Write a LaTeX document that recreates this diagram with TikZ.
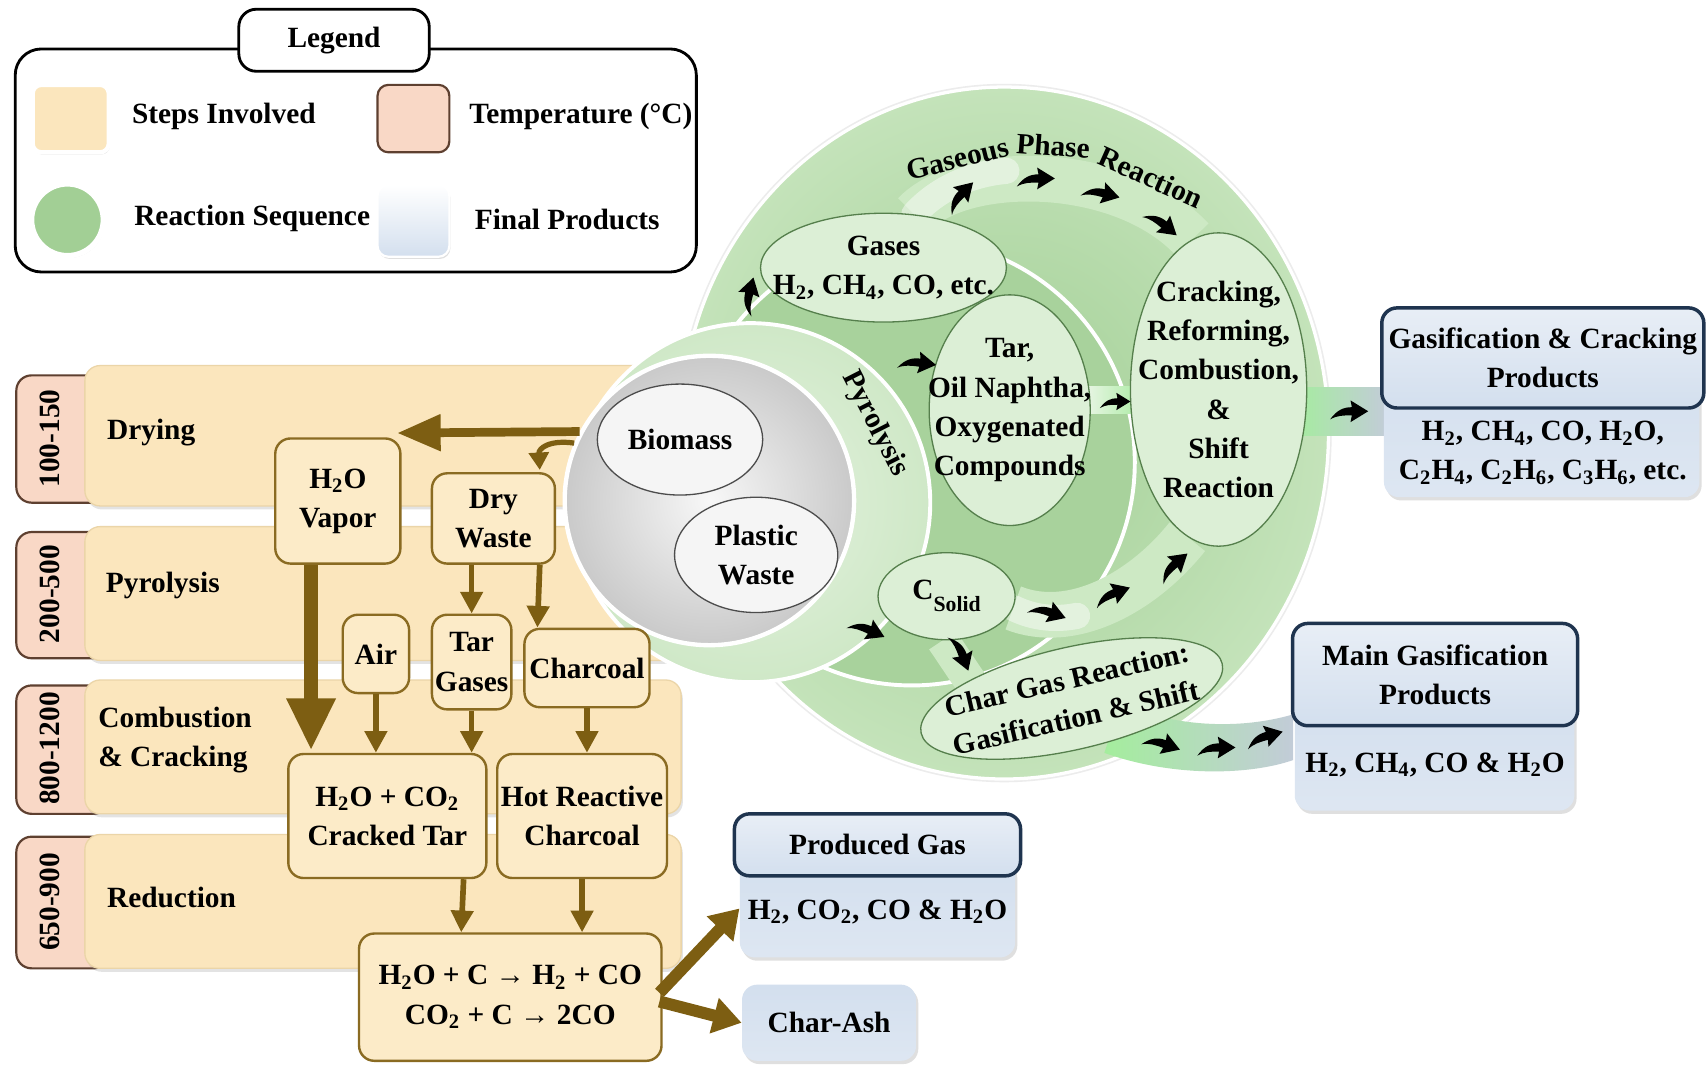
\documentclass[tikz,border=0pt]{standalone}
\usepackage{fontspec}
\setmainfont{Liberation Serif}
\usetikzlibrary{shapes.geometric,arrows.meta,calc,shadows}
\pgfdeclarelayer{base}
\pgfdeclarelayer{mid}
\pgfsetlayers{base,mid,main}
\definecolor{stepfill}{HTML}{FBE6BD}
\definecolor{stepedge}{HTML}{EBD5A8}
\definecolor{boxfill}{HTML}{FCEBC8}
\definecolor{boxedge}{HTML}{8A6B22}
\definecolor{tempfill}{HTML}{F9D8C6}
\definecolor{tempedge}{HTML}{5E4030}
\definecolor{arrbrown}{HTML}{7D5E12}
\definecolor{gouter}{HTML}{C4E3BA}
\definecolor{ginner}{HTML}{A2CF95}
\definecolor{gring}{HTML}{A8D29C}
\definecolor{gpyro}{HTML}{CFE8C7}
\definecolor{ellfill}{HTML}{DCEFD6}
\definecolor{elledge}{HTML}{557F4C}
\definecolor{bandc}{HTML}{CDE9C4}
\definecolor{navy}{HTML}{1F344F}
\definecolor{pblue}{HTML}{D3DFEE}
\definecolor{pblue2}{HTML}{E8EEF6}
\newcommand\fs{\fontsize{13.5}{18}\selectfont\bfseries}
\newcommand\dn[1]{\textsubscript{#1}}
\begin{document}
\begin{tikzpicture}[x=0.5pt,y=-0.5pt,
  every node/.style={font=\fs},
  legframe/.style={draw=black, line width=1.3pt, rounded corners=12pt, fill=white},
  legtitle/.style={draw=black, line width=1.3pt, rounded corners=8pt, fill=white, minimum width=87.5pt, minimum height=28.5pt},
  legtext/.style={anchor=west, inner sep=0pt},
  stepband/.style={fill=stepfill, draw=stepedge, line width=0.6pt, rounded corners=7pt, drop shadow={opacity=0.22, shadow xshift=0.8pt, shadow yshift=-1.6pt}},
  tempbox/.style={fill=tempfill, draw=tempedge, line width=1pt, rounded corners=7pt},
  templabel/.style={rotate=90, inner sep=0pt},
  stagelabel/.style={anchor=west, align=left, inner sep=0pt},
  ybox/.style={draw=boxedge, fill=boxfill, line width=1.1pt, rounded corners=7pt, align=center, inner sep=0pt},
  brownarrow/.style={draw=arrbrown, line width=2.6pt, -{Triangle[length=10pt, width=10pt]}},
  curvarrow/.style={draw=arrbrown, line width=2.4pt, -{Triangle[length=8pt, width=9pt]}},
  bigarrow/.style={draw=arrbrown, line width=4pt, -{Triangle[length=20pt, width=16pt]}},
  hugearrow/.style={draw=arrbrown, line width=6.5pt, -{Triangle[length=24pt, width=21pt]}},
  wedgearrow/.style={draw=arrbrown, line width=5.5pt, -{Triangle[length=13pt, width=16pt]}},
  gellipse/.style={ellipse, draw=elledge, line width=0.6pt, fill=ellfill, inner sep=0pt},
  fellipse/.style={ellipse, draw=gray!60!black, line width=0.6pt, fill=gray!8, inner sep=0pt},
  greenband/.style={draw=bandc, line width=21pt},
  arclabel/.style={inner sep=0pt},
  phead/.style={draw=navy, line width=1.6pt, rounded corners=7pt, top color=pblue2, bottom color=pblue, align=center, inner sep=0pt},
  pbody/.style={rounded corners=7pt, top color=pblue, bottom color=pblue2!50!pblue, drop shadow={opacity=0.25, shadow xshift=1pt, shadow yshift=-1.5pt}, inner sep=0pt},
  swoosh/.pic={\fill[black, scale=1.25] (-14,6) .. controls (-9,-1) and (-4,-3) .. (2,-3) -- (1,-8) -- (14,0) -- (1,8) -- (2,3) .. controls (-4,3) and (-9,3) .. cycle;}
]
\useasboundingbox (0,0) rectangle (1568,979);

% ---------- base layer ----------
\begin{pgfonlayer}{base}
\fill[white] (0,0) rectangle (1568,979);
\draw[tempbox] (15,345) rectangle (100,462);
\draw[tempbox] (15,489) rectangle (100,605);
\draw[tempbox] (15,630) rectangle (100,748);
\draw[tempbox] (15,769) rectangle (100,890);
\draw[stepband] (78,336) rectangle (622,465);
\draw[stepband] (78,484) rectangle (622,607);
\draw[stepband] (78,625) rectangle (626,748);
\draw[stepband] (78,767) rectangle (626,890);
\node[ellipse, minimum width=301pt, minimum height=321pt, fill=gray!15] (outerhalo) at (923,398) {};
\node[ellipse, minimum width=298pt, minimum height=318pt, inner color=ginner, outer color=gouter, draw=white, line width=1.5pt] (outer) at (923,398) {};
\node[circle, minimum size=205pt, fill=gring, draw=white, line width=1.8pt] (ring) at (838,425) {};
\node[circle, minimum size=165pt, inner color=gpyro!55!white, outer color=gpyro, draw=white, line width=1.8pt] (pyro) at (690,462) {};
\node[circle, minimum size=133pt, inner color=gray!6, outer color=gray!42, draw=white, line width=2pt] (feed) at (652,460) {};
\end{pgfonlayer}

% ---------- legend ----------
\draw[legframe] (14,45) rectangle (640,250);
\node[legtitle] (legtitle) at (307,37) {Legend};
\node[draw=white, line width=2pt, fill=stepfill, rounded corners=4pt, minimum width=35pt, minimum height=31pt, drop shadow={opacity=0.3, shadow xshift=0.5pt, shadow yshift=-1pt}] (swstep) at (65,109) {};
\node[fill=tempfill, draw=tempedge, line width=1pt, rounded corners=5pt, minimum width=33pt, minimum height=31pt] (swtemp) at (380,109) {};
\node[circle, fill=ginner, draw=white, line width=2.5pt, minimum size=33pt, drop shadow={opacity=0.3, shadow xshift=0.5pt, shadow yshift=-1pt}] (swreac) at (62,202) {};
\node[rounded corners=5pt, top color=white, bottom color=pblue, draw=white, line width=1pt, minimum width=33pt, minimum height=33pt, drop shadow={opacity=0.25, shadow xshift=0.5pt, shadow yshift=-1pt}] (swprod) at (380,203) {};
\node[legtext] (lstep) at (121,107) {Steps Involved};
\node[legtext] (ltemp) at (431,107) {Temperature (°C)};
\node[legtext] (lreac) at (123,201) {Reaction Sequence};
\node[legtext] (lprod) at (436,202) {Final Products};

% ---------- stages ----------
\node[templabel] (tdry) at (46,403) {100-150};
\node[templabel] (tpyr) at (46,546) {200-500};
\node[templabel] (tcomb) at (46,688) {800-1200};
\node[templabel] (tred) at (46,829) {650-900};
\node[stagelabel] (sdry) at (98,398) {Drying};
\node[stagelabel] (spyr) at (97,538) {Pyrolysis};
\node[stagelabel] (scomb) at (90,680) {Combustion\\\& Cracking};
\node[stagelabel] (sred) at (98,825) {Reduction};

% ---------- ellipses in the circle ----------
\node[fellipse, minimum width=76pt, minimum height=51pt] (bio) at (625,404) {};
\node (bioT) at (bio) {Biomass};
\node[fellipse, minimum width=75pt, minimum height=53pt] (plastic) at (695,510) {};
\node[align=center] (plasticT) at (plastic) {Plastic\\Waste};
\node[gellipse, minimum width=113pt, minimum height=50pt] (gases) at (812,246) {};
\node[align=center] (gasesT) at (gases) {Gases\\H\dn{2}, CH\dn{4}, CO, etc.};
\node[gellipse, minimum width=74pt, minimum height=106pt] (tarE) at (928,377) {};
\node[align=center] (tarT) at (tarE) {Tar,\\Oil Naphtha,\\Oxygenated\\Compounds};
\node[gellipse, minimum width=81pt, minimum height=144pt] (crack) at (1120,358) {};
\node[align=center] (crackT) at (crack) {Cracking,\\Reforming,\\Combustion,\\\&\\Shift\\Reaction};
\node[gellipse, minimum width=63pt, minimum height=40pt] (csolid) at (870,548) {};
\node (csolidT) at (csolid) {C\raisebox{-0.4em}{\fontsize{10}{10}\selectfont Solid}};
\node[gellipse, rotate=13, minimum width=142pt, minimum height=47pt] (chargas) at (985,642) {};
\node[align=center, rotate=13] (chargasT) at (chargas) {Char Gas Reaction:\\Gasification \& Shift};

% ---------- products ----------
\node[pbody, minimum width=145pt, minimum height=63.5pt] (gcbody) at (1417,393.5) {};
\node[phead, minimum width=148pt, minimum height=46pt] (gchead) at (1418,329) {Gasification \& Cracking\\Products};
\node[align=center] (gctext) at (1418,416) {H\dn{2}, CH\dn{4}, CO, H\dn{2}O,\\C\dn{2}H\dn{4}, C\dn{2}H\dn{6}, C\dn{3}H\dn{6}, etc.};
\node[pbody, minimum width=128.5pt, minimum height=52.5pt] (mgbody) at (1318.5,692.5) {};
\node[phead, minimum width=131pt, minimum height=47pt] (mghead) at (1319,620) {Main Gasification\\Products};
\node (mgtext) at (1319,703) {H\dn{2}, CH\dn{4}, CO \& H\dn{2}O};
\node[pbody, minimum width=126.5pt, minimum height=45pt] (pgbody) at (806.5,835) {};
\node[phead, minimum width=131.5pt, minimum height=28.5pt] (pghead) at (806.5,776.5) {Produced Gas};
\node (pgtext) at (806.5,838) {H\dn{2}, CO\dn{2}, CO \& H\dn{2}O};
\node[pbody, minimum width=80pt, minimum height=35pt] (charash) at (762,940) {Char-Ash};

% ---------- green bands ----------
\coordinate (cgtop) at (893,628);
\begin{pgfonlayer}{mid}
\draw[greenband] (gases.60) .. controls (885,150) and (1030,150) .. (crack.100);
\draw[draw=white, opacity=0.45, line width=12pt, line cap=round] (gases.60) .. controls (860,175) and (890,160) .. (925,157);
\draw[greenband] (csolid.-10) .. controls (985,580) and (1050,545) .. (crack.258);
\draw[draw=white, opacity=0.45, line width=12pt, line cap=round] (csolid.-10) .. controls (950,568) and (970,570) .. (990,566);
\draw[greenband, line width=15pt] (csolid.-95) -- (cgtop);
\shade[left color=ellfill!60!white, right color=bandc!85!green] ($(tarE.east)+(-6,-22)$) rectangle ($(crack.west)+(8,22)$);
\shade[left color=bandc!80!green, right color=pblue!80!gray] ($(crack.east)+(-14,-2)$) rectangle ($(gchead.south west)+(6,24)$);
\shade[left color=bandc!80!green, right color=pblue!80!gray] ($(chargas.center)+(45,5)$) .. controls (1090,672) and (1150,668) .. ($(mghead.south west)+(2,-12)$) -- ($(mghead.south west)+(2,30)$) .. controls (1150,712) and (1080,715) .. ($(chargas.center)+(30,50)$) -- cycle;
\end{pgfonlayer}

% ---------- black swoosh arrows ----------
\pic[rotate=75] at (688,272) {swoosh};
\pic[rotate=-8] at (843,333) {swoosh};
\pic[rotate=-25] at (797,578) {swoosh};
\pic[rotate=45] at (882,180) {swoosh};
\pic[rotate=0] at (952,164) {swoosh};
\pic[rotate=-15] at (1012,177) {swoosh};
\pic[rotate=-40] at (1068,205) {swoosh};
\pic[rotate=0, scale=0.8] at (1025,369) {swoosh};
\pic[rotate=0] at (1240,378) {swoosh};
\pic[rotate=-20] at (963,562) {swoosh};
\pic[rotate=20] at (1022,546) {swoosh};
\pic[rotate=40] at (1078,520) {swoosh};
\pic[rotate=-70] at (884,600) {swoosh};
\pic[rotate=-20] at (1068,683) {swoosh};
\pic[rotate=0] at (1118,687) {swoosh};
\pic[rotate=15] at (1162,677) {swoosh};

% ---------- arc labels ----------
\node[arclabel, rotate=14] (gpr1) at (880,146) {Gaseous};
\node[arclabel, rotate=-4] (gpr2) at (968,134) {Phase};
\node[arclabel, rotate=-24] (gpr3) at (1058,163) {Reaction};
\node[arclabel, rotate=-63] (pyrlab) at (804,390) {Pyrolysis};

% ---------- yellow process boxes ----------
\node[ybox, minimum width=57.5pt, minimum height=57.5pt] (vapor) at (310.5,460.5) {H\dn{2}O\\Vapor};
\node[ybox, minimum width=56.5pt, minimum height=41.5pt] (dry) at (453.5,476.5) {Dry\\Waste};
\node[ybox, minimum width=30.5pt, minimum height=36pt] (air) at (345.5,601) {Air};
\node[ybox, minimum width=36.5pt, minimum height=43.5pt] (tar) at (433.5,608.5) {Tar\\Gases};
\node[ybox, minimum width=57.5pt, minimum height=36pt] (charcoal) at (539.5,614) {Charcoal};
\node[ybox, minimum width=91pt, minimum height=57pt] (cracked) at (356,750) {H\dn{2}O + CO\dn{2}\\Cracked Tar};
\node[ybox, minimum width=78pt, minimum height=57pt] (hot) at (535,750) {Hot Reactive\\Charcoal};
\node[ybox, minimum width=139pt, minimum height=58.5pt] (redx) at (469,916.5) {H\dn{2}O + C → H\dn{2} + CO\\CO\dn{2} + C → 2CO};

% ---------- brown arrows ----------
\coordinate (drytip) at (365,398);
\draw[bigarrow] (feed.152) -- (drytip);
\draw[curvarrow] (feed.157) .. controls (505,404) and (495,412) .. ($(dry.north east)+(-15,-2)$);
\draw[hugearrow] ($(vapor.south west)+(34,0)$) -- ($(cracked.north west)+(22,-2)$);
\draw[brownarrow] (dry.south -| tar.north) -- (tar.north);
\draw[brownarrow] ($(dry.south east)+(-15,0)$) -- ($(charcoal.north west)+(13,0)$);
\draw[brownarrow] (air.south) -- (air.south |- cracked.north);
\draw[brownarrow] (tar.south) -- (tar.south |- cracked.north);
\draw[brownarrow] (charcoal.south) -- (charcoal.south |- hot.north);
\draw[brownarrow] ($(cracked.south east)+(-22,0)$) -- ($(redx.north west)+(95,0)$);
\draw[brownarrow] (hot.south) -- (hot.south |- redx.north);
\draw[wedgearrow] ($(redx.east)+(-3,-4)$) -- (pgbody.west);
\draw[wedgearrow] ($(redx.east)+(-3,4)$) -- (charash.west);
\end{tikzpicture}
\end{document}
